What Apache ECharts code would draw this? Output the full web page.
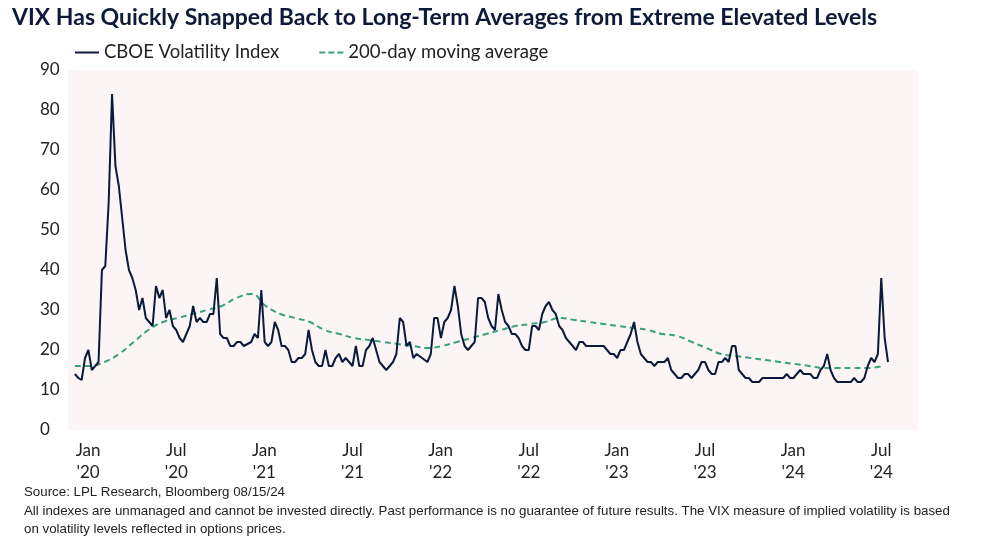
<!DOCTYPE html>
<html>
<head>
<meta charset="utf-8">
<script src="https://cdn.jsdelivr.net/npm/echarts@6/dist/echarts.min.js"></script>
<style>
  body { margin: 0; background: #fff; }
  #chart { width: 986px; height: 538px; }
</style>
</head>
<body>
<div id="chart"></div>
<script>
// weekly VIX closes per calendar year, first week of January onward
var vix2020 = [14,13,12.5,18, 20,15,16,17,40, 41,57,84,66,61, 53,45,40,38,35, 30,33,28,27, 26,36,33,35, 28,30,26,25, 23,22,24,26, 31,27,28,27, 27,29,29,38, 24,23,23,21, 21,22,22,21];
var vix2021 = [22,24,23,35, 22,21,22,27, 25,21,21,20, 17,17,18,18, 19,25,20,17, 16,16,20,16, 16,18,19,17,18, 17,16,21,16, 16,20,21,23, 20,17,16,15, 16,17,19,28, 27,21,22,18,19];
var vix2022 = [17,19,28,28, 23,27,28,30, 36,31,24,21, 20,21,22,33, 33,32,28,26, 25,34,30,27, 26,24,24,23, 21,20,20,26, 26,25,29,31, 32,30,29,26, 25,23,22,21, 20,22,22,21,21];
var vix2023 = [21,20,19,19, 18,20,20,22, 24,27,22,19, 18,17,17,16, 17,17,17,18, 15,14,13,13, 14,14,13,14, 15,17,17,15, 14,14,17,17, 18,17,21,21, 15,14,13,13, 12,12,12,13,13];
var vix2024 = [13,13,14,13, 13,14,15,14, 14,14,13,13, 15,16,19,15, 13,12,12,12, 12,12,13,12, 12,13,16,18,17, 19,38,23,17];
// 200-day moving average, one value per month from Jan 2020
var ma200 = [16,16,17,19,22,25,27,28,29,30,31,33,
             34,31,29,28,27,25,24,23,22.5,22,21.5,21,
             20.5,21,22,23,24,25,26,26.5,27,28,27.5,27,
             26.5,26,25.5,25,24,23.5,22,20.5,19,18.5,18,17.5,
             17,16.5,16,15.5,15.5,15.5,15.5,16];
var tickMonths = [0,6,12,18,24,30,36,42,48,54];
var tickLabels = ["Jan\n'20","Jul\n'20","Jan\n'21","Jul\n'21","Jan\n'22","Jul\n'22","Jan\n'23","Jul\n'23","Jan\n'24","Jul\n'24"];

var vixData = [];
[vix2020, vix2021, vix2022, vix2023, vix2024].forEach(function (arr, y) {
  arr.forEach(function (v, i) { vixData.push([y * 12 + i * 7 / 30.44, v]); });
});
var maData = ma200.map(function (v, i) { return [i, v]; });
var labelOffset = 0.9;

var chart = echarts.init(document.getElementById('chart'));
chart.setOption({
  animation: false,
  textStyle: { fontFamily: 'Lato, "Open Sans", sans-serif' },
  title: {
    text: 'VIX Has Quickly Snapped Back to Long-Term Averages from Extreme Elevated Levels',
    left: 7, top: 1,
    textStyle: { fontSize: 23, fontWeight: 'bold', color: '#0d1a3a' }
  },
  legend: {
    left: 70, top: 38, itemGap: 40, itemWidth: 24, itemHeight: 2,
    textStyle: { fontSize: 18.5, color: '#222' },
    data: [
      { name: 'CBOE Volatility Index', icon: 'rect' },
      { name: '200-day moving average', icon: 'path://M0,0h6v2h-6zM9,0h6v2h-6zM18,0h6v2h-6z' }
    ]
  },
  graphic: [
    { type: 'rect', left: 68, top: 70, shape: { width: 850, height: 360 }, style: { fill: '#fbf6f5' }, z: -10 },
    { type: 'text', left: 24, top: 486, style: { text: 'Source: LPL Research, Bloomberg 08/15/24', fontSize: 13.3, fill: '#222' } },
    { type: 'text', left: 24, top: 502, style: { text: 'All indexes are unmanaged and cannot be invested directly. Past performance is no guarantee of future results. The VIX measure of implied volatility is based\non volatility levels reflected in options prices.', fontSize: 13.3, lineHeight: 18, fill: '#222' } }
  ],
  grid: { left: 68, right: 68, top: 70, bottom: 108 },
  xAxis: {
    type: 'value', min: -0.47, max: 57.4,
    axisLine: { show: false }, axisTick: { show: false }, splitLine: { show: false },
    axisLabel: {
      customValues: tickMonths.map(function (m) { return m + labelOffset; }),
      formatter: function (v) { return tickLabels[Math.round((v - labelOffset) / 6)]; },
      fontSize: 17, color: '#222', lineHeight: 22, margin: 10
    }
  },
  yAxis: {
    type: 'value', min: 0, max: 90, interval: 10,
    axisLine: { show: false }, axisTick: { show: false }, splitLine: { show: false },
    axisLabel: { fontSize: 17, color: '#222', margin: 28, align: 'left' }
  },
  series: [
    {
      name: 'CBOE Volatility Index', type: 'line', data: vixData, showSymbol: false,
      lineStyle: { color: '#0b1a3a', width: 2 }, itemStyle: { color: '#0b1a3a' }, z: 3
    },
    {
      name: '200-day moving average', type: 'line', data: maData, showSymbol: false, smooth: true,
      lineStyle: { color: '#3aa27a', width: 2, type: [6, 4] }, itemStyle: { color: '#3aa27a' }, z: 2
    }
  ]
});
</script>
</body>
</html>
